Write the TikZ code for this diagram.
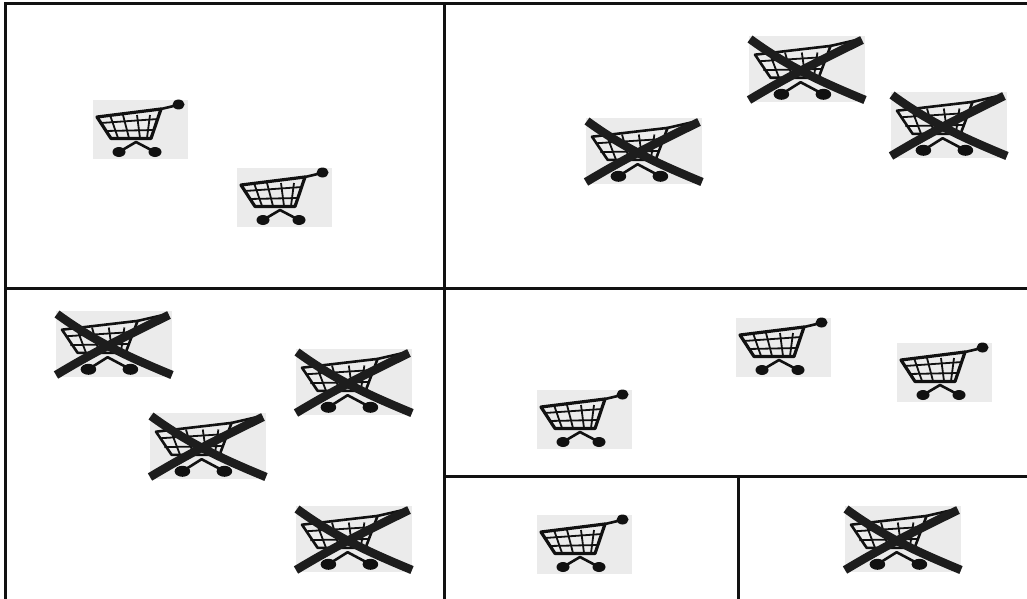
\documentclass[tikz,border=0pt]{standalone}
\usepackage{xcolor}
\usetikzlibrary{calc}
\definecolor{ink}{HTML}{111111}
\definecolor{cartbg}{HTML}{EBEBEB}
\tikzset{
  wall/.style={draw=ink,line width=3pt,line cap=rect},
  cartline/.style={draw=ink,line width=2.6pt,line join=round},
  cartgrid/.style={draw=ink,line width=1.8pt},
  crossline/.style={draw=ink!95,line width=8.5pt},
  pics/cart/.style={code={
    \fill[cartbg] (0,0) rectangle (95,59);
    % basket
    \draw[cartline,line width=3.2pt] (4,17) -- (18,38.5) -- (58,38.5) -- (68,9) -- cycle;
    \draw[cartline] (68,9) -- (85,5);
    \fill[ink] (85.5,4.5) ellipse (6 and 5);
    % grid
    \foreach \xa/\xb in {17/25,30/36,44/47,57/54}
      \draw[cartgrid] (\xa,15) -- (\xb,38);
    \draw[cartgrid] (8,23) -- (65,19);
    \draw[cartgrid] (12,31) -- (61,30);
    % wheels
    \draw[cartline] (26,52) -- (43,42) -- (62,52);
    \fill[ink] (26,52) ellipse (6.5 and 5);
    \fill[ink] (62,52) ellipse (6.5 and 5);
  }},
  pics/nocart/.style={code={
    \fill[cartbg] (0,0) rectangle (116,66);
    \begin{scope}[xscale=1.2,yscale=1.1]
      \draw[cartline] (5,17) -- (18,38) -- (58,38) -- (68,9) -- cycle;
      \draw[cartline] (68,9) -- (88,4);
      \foreach \xa/\xb in {17/25,30/36,44/47,57/54}
        \draw[cartgrid] (\xa,15) -- (\xb,38);
      \draw[cartgrid] (8,23) -- (65,19);
      \draw[cartgrid] (12,31) -- (61,30);
      \draw[cartline] (27,53) -- (43,42) -- (62,53);
      \fill[ink] (27,53) ellipse (6.5 and 5);
      \fill[ink] (62,53) ellipse (6.5 and 5);
    \end{scope}
    % cross
    \draw[crossline] (1,3) .. controls (38,30) and (70,45) .. (116,64);
    \draw[crossline] (0,64) .. controls (40,40) and (70,25) .. (113,4);
  }},
}
\begin{document}
\begin{tikzpicture}[x=1pt,y=-1pt]
  \useasboundingbox (0,0) rectangle (1027,599);
  \fill[white] (0,0) rectangle (1027,599);
  % partition
  \draw[wall] (1027,4) -- (5,4) -- (5,599);
  \draw[wall] (444,4) -- (444,599);
  \draw[wall] (5,288) -- (1027,288);
  \draw[wall] (444,476) -- (1027,476);
  \draw[wall] (738,476) -- (738,599);
  % kept
  \foreach \px/\py in {93/100,237/168,736/318,897/343,537/390,537/515}
    \pic at (\px,\py) {cart};
  % crossed out
  \foreach \px/\py in {586/118,749/36,891/92,56/311,296/349,150/413,296/506,845/506}
    \pic at (\px,\py) {nocart};
\end{tikzpicture}
\end{document}
